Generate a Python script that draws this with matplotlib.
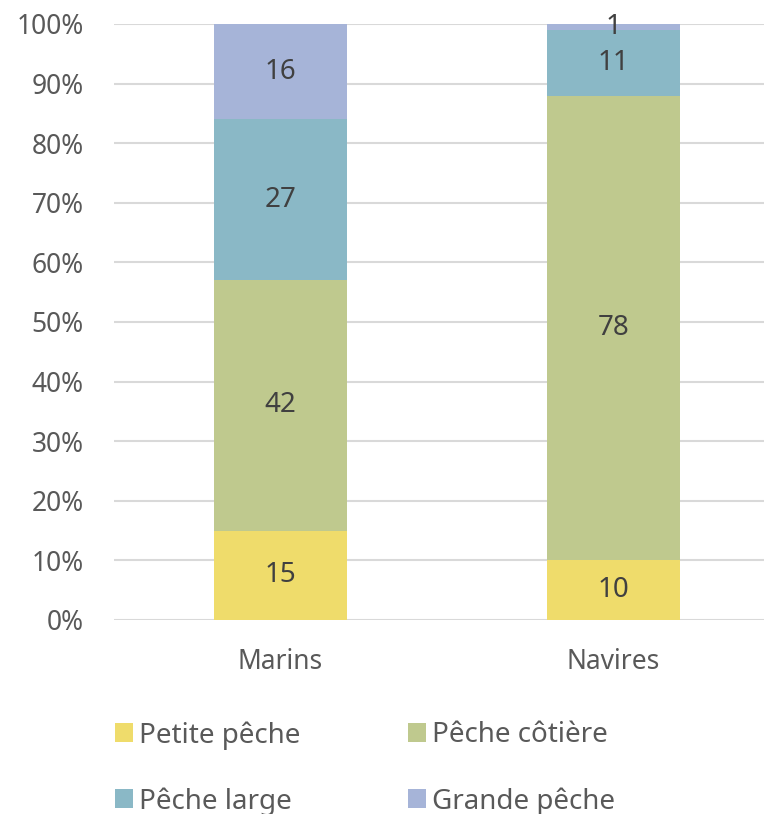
import matplotlib.pyplot as plt
import numpy as np

categories = ['Marins', 'Navires']
series = ['Petite pêche', 'Pêche côtière', 'Pêche large', 'Grande pêche']
petite = [15, 10]
cotiere = [42, 78]
large = [27, 11]
grande = [16, 1]
colors = ['#EFDC6B', '#BFC98E', '#8AB8C6', '#A6B4D8']

plt.rcParams['font.family'] = ['Noto Sans', 'DejaVu Sans']

fig = plt.figure(figsize=(7.64, 8.14), dpi=100)
ax = fig.add_axes([114/764, 194/814, 666/764, 596/814])

x = np.arange(len(categories))
bottom = np.zeros(len(categories))
bars = []
for vals, col, name in zip([petite, cotiere, large, grande], colors, series):
    b = ax.bar(x, vals, 0.397, bottom=bottom, color=col, label=name, zorder=2)
    ax.bar_label(b, labels=[str(v) for v in vals], label_type='center',
                 fontsize=20, color='#404040')
    bottom += np.array(vals)
    bars.append(b)

ax.set_xlim(-0.5, 1.5)
ax.set_ylim(0, 100)
ax.set_yticks(np.arange(0, 101, 10))
ax.set_yticklabels([f'{v}%' for v in range(0, 101, 10)])
ax.set_xticks(x)
ax.set_xticklabels(categories)
ax.tick_params(axis='both', length=0, labelsize=19, colors='#595959')
ax.tick_params(axis='y', pad=22)
ax.tick_params(axis='x', pad=20)
ax.yaxis.grid(True, color='#D9D9D9', linewidth=1.5, zorder=0)
for s in ax.spines.values():
    s.set_visible(False)

order = [0, 2, 1, 3]
leg = fig.legend([bars[i] for i in order], [series[i] for i in order],
                 ncol=2, loc='upper left', bbox_to_anchor=(90/764, 1 - 696/814),
                 frameon=False, fontsize=20, labelcolor='#595959',
                 handlelength=0.65, handleheight=0.65, handletextpad=0.2,
                 columnspacing=3.9, labelspacing=1.35)

fig.savefig('out.png', dpi=100)
